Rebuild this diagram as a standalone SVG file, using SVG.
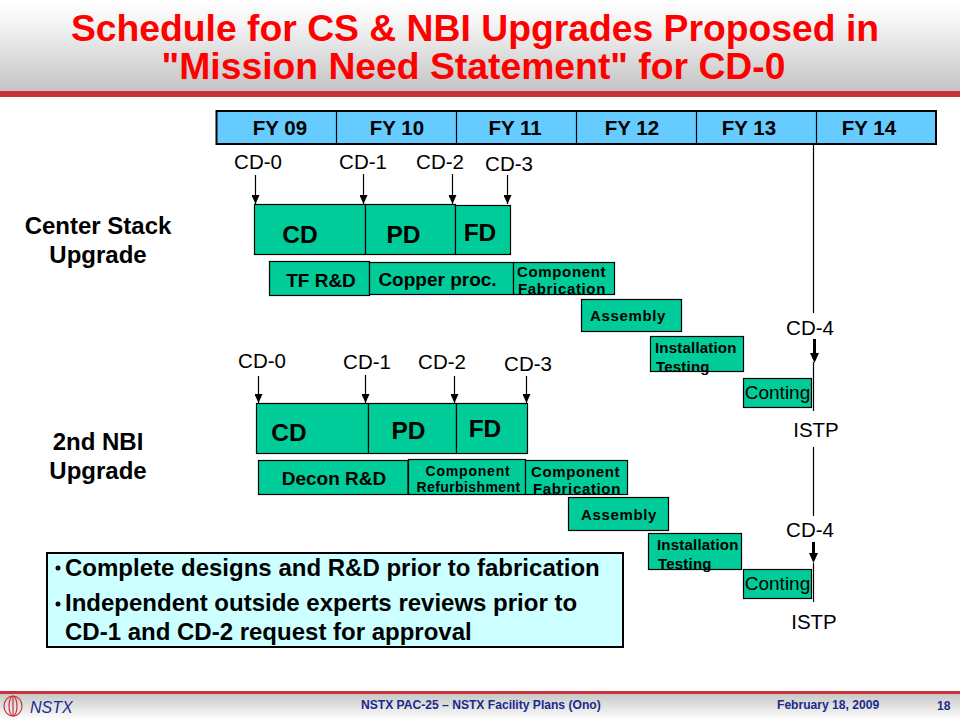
<svg xmlns="http://www.w3.org/2000/svg" width="960" height="720" viewBox="0 0 960 720">
<style>
text{font-family:"Liberation Sans",Arial,sans-serif;fill:#000}
.m{text-anchor:middle}
.box{fill:#00cc99;stroke:#000;stroke-width:1.2}
.big{font-size:24.5px;font-weight:bold}
.sm{font-size:15px;font-weight:bold;letter-spacing:.65px}
.ins{font-size:15px;font-weight:bold;letter-spacing:.2px}
.ref{font-size:14px;font-weight:bold;text-anchor:middle}
.md{font-size:19px;font-weight:bold}
.fy{font-size:20.5px;font-weight:bold;text-anchor:middle}
.cd{font-size:20.5px;text-anchor:middle}
.ct{font-size:19px;text-anchor:middle}
.lbl{font-size:24px;font-weight:bold;text-anchor:middle}
.conn{stroke:#000;stroke-width:1.2;fill:none}
.thick{stroke:#000;stroke-width:3;fill:none}
.foot{font-size:12.1px;font-weight:bold;fill:#1a2a8c}
.title{font-size:37.3px;font-weight:bold;fill:#ff0000;text-anchor:middle}
.note{font-size:24px;font-weight:bold}
</style>
<defs>
<linearGradient id="hdr" x1="0" y1="0" x2="0" y2="1"><stop offset="0" stop-color="#ffffff"/><stop offset="0.25" stop-color="#f4f4f4"/><stop offset="1" stop-color="#c4c4c4"/></linearGradient>
<linearGradient id="ftr" x1="0" y1="0" x2="0" y2="1"><stop offset="0" stop-color="#c8c8c8"/><stop offset="1" stop-color="#ffffff"/></linearGradient>
<marker id="ah" markerUnits="userSpaceOnUse" markerWidth="9" markerHeight="8" refX="9" refY="4" orient="auto" viewBox="0 0 9 8"><path d="M0 0L9 4L0 8Z" fill="#000"/></marker>
</defs>
<g id="header">
<rect x="0" y="0" width="960" height="91" fill="url(#hdr)"/>
<rect x="0" y="91" width="960" height="6" fill="#c8323a"/>
<text class="title" x="475" y="41">Schedule for CS &amp; NBI Upgrades Proposed in</text>
<text class="title" x="473.500" y="79">"Mission Need Statement" for CD-0</text>
</g>
<g id="fy-bar">
<rect x="216.500" y="111" width="719.500" height="33" fill="#66ccff" stroke="#000" stroke-width="2"/>
<path d="M336.500 111V144M456.500 111V144M576.500 111V144M696.500 111V144M816.500 111V144" class="conn"/>
<text class="fy" x="280" y="135">FY 09</text>
<text class="fy" x="397" y="135">FY 10</text>
<text class="fy" x="515" y="135">FY 11</text>
<text class="fy" x="632" y="135">FY 12</text>
<text class="fy" x="749" y="135">FY 13</text>
<text class="fy" x="869" y="135">FY 14</text>
</g>
<g id="connectors">
<path class="conn" d="M813.500 144V313M813.500 362V411M813.500 447V516M813.500 563V602"/>
<line class="conn" x1="255.500" y1="175" x2="255.500" y2="204" marker-end="url(#ah)"/>
<line class="conn" x1="363.500" y1="174" x2="363.500" y2="204" marker-end="url(#ah)"/>
<line class="conn" x1="452.500" y1="174" x2="452.500" y2="204" marker-end="url(#ah)"/>
<line class="conn" x1="507.500" y1="175" x2="507.500" y2="204" marker-end="url(#ah)"/>
<line class="conn" x1="258.500" y1="376" x2="258.500" y2="403" marker-end="url(#ah)"/>
<line class="conn" x1="365.500" y1="375" x2="365.500" y2="403" marker-end="url(#ah)"/>
<line class="conn" x1="454.500" y1="376" x2="454.500" y2="403" marker-end="url(#ah)"/>
<line class="conn" x1="526.500" y1="376" x2="526.500" y2="403" marker-end="url(#ah)"/>
<line class="thick" x1="814.500" y1="339" x2="814.500" y2="355"/><path d="M810 353H819L814.500 363Z"/>
<line class="thick" x1="813.500" y1="542" x2="813.500" y2="555"/><path d="M809 553H818L813.500 563Z"/>
</g>
<g id="cs-upgrade">
<text class="lbl" x="98" y="234">Center Stack</text>
<text class="lbl" x="98" y="263">Upgrade</text>
<text class="cd" x="258" y="169">CD-0</text>
<text class="cd" x="363" y="169">CD-1</text>
<text class="cd" x="440" y="169">CD-2</text>
<text class="cd" x="509" y="171">CD-3</text>
<g id="cs-cd"><rect class="box" x="254.500" y="204.500" width="111" height="50"/><text class="big m" x="300" y="243">CD</text></g>
<g id="cs-pd"><rect class="box" x="365.500" y="204.500" width="90" height="50"/><text class="big m" x="403.500" y="243">PD</text></g>
<g id="cs-fd"><rect class="box" x="455.500" y="205.500" width="55" height="49"/><text class="big m" x="480" y="241">FD</text></g>
<g id="cs-tf"><rect class="box" x="269.500" y="261.500" width="100" height="34"/><text class="md m" x="321" y="287">TF R&amp;D</text></g>
<g id="cs-copper"><rect class="box" x="369.500" y="262.500" width="144" height="32"/><text class="md m" x="437.500" y="286">Copper proc.</text></g>
<g id="cs-comp"><rect class="box" x="513.500" y="262.500" width="101" height="32"/><text class="sm" x="517" y="277">Component</text><text class="sm" x="518" y="294">Fabrication</text></g>
<g id="cs-asm"><rect class="box" x="581.500" y="299.500" width="100" height="32"/><text class="sm" x="590" y="321">Assembly</text></g>
<g id="cs-inst"><rect class="box" x="650.500" y="336.500" width="93" height="35"/><text class="ins" x="655" y="353">Installation</text><text class="ins" x="656" y="372">Testing</text></g>
<g id="cs-cont"><rect class="box" x="743.500" y="378.500" width="68" height="29"/><text class="ct" x="777.500" y="399">Conting</text></g>
<text class="cd" x="810" y="335">CD-4</text>
<text class="cd" x="816" y="437">ISTP</text>
</g>
<g id="nbi-upgrade">
<text class="lbl" x="98" y="450">2nd NBI</text>
<text class="lbl" x="98" y="479">Upgrade</text>
<text class="cd" x="262" y="368">CD-0</text>
<text class="cd" x="367" y="369">CD-1</text>
<text class="cd" x="442" y="369">CD-2</text>
<text class="cd" x="528" y="371">CD-3</text>
<g id="nbi-cd"><rect class="box" x="256.500" y="403.500" width="112" height="50"/><text class="big m" x="289" y="441">CD</text></g>
<g id="nbi-pd"><rect class="box" x="368.500" y="403.500" width="88" height="50"/><text class="big m" x="408.500" y="439">PD</text></g>
<g id="nbi-fd"><rect class="box" x="456.500" y="403.500" width="71" height="50"/><text class="big m" x="485" y="437">FD</text></g>
<g id="nbi-decon"><rect class="box" x="258.500" y="460.500" width="149.500" height="34"/><text class="md m" x="334" y="485">Decon R&amp;D</text></g>
<g id="nbi-refurb"><rect class="box" x="408.500" y="459.500" width="117" height="35"/><text class="ref" style="letter-spacing:.8px" x="468" y="475.500">Component</text><text class="ref" style="letter-spacing:.4px" x="468.500" y="491.500">Refurbishment</text></g>
<g id="nbi-comp"><rect class="box" x="525.500" y="460.500" width="102" height="34"/><text class="sm" x="531" y="477">Component</text><text class="sm" x="533" y="494">Fabrication</text></g>
<g id="nbi-asm"><rect class="box" x="568.500" y="497.500" width="100" height="33"/><text class="sm" x="581" y="520">Assembly</text></g>
<g id="nbi-inst"><rect class="box" x="648.500" y="533.500" width="93" height="36"/><text class="ins" x="657" y="550">Installation</text><text class="ins" x="658" y="569">Testing</text></g>
<g id="nbi-cont"><rect class="box" x="743.500" y="569.500" width="68" height="29"/><text class="ct" x="777.500" y="590">Conting</text></g>
<text class="cd" x="810" y="537">CD-4</text>
<text class="cd" x="814" y="629">ISTP</text>
</g>
<g id="note">
<rect x="47" y="553" width="576" height="94" fill="#ccffff" stroke="#000" stroke-width="2"/>
<circle cx="58" cy="568" r="2.500"/><circle cx="58" cy="604" r="2.500"/>
<text class="note" x="65" y="576">Complete designs and R&amp;D prior to fabrication</text>
<text class="note" x="65" y="611">Independent outside experts reviews prior to</text>
<text class="note" x="65" y="640">CD-1 and CD-2 request for approval</text>
</g>
<g id="footer">
<rect x="0" y="694" width="960" height="26" fill="url(#ftr)"/>
<rect x="0" y="691" width="960" height="3" fill="#c8323a"/>
<g fill="none" stroke="#c8323a" stroke-width="1.200"><ellipse cx="13" cy="706" rx="9" ry="10"/><ellipse cx="13" cy="706" rx="4" ry="10"/><line x1="13" y1="696" x2="13" y2="716"/></g>
<text x="30" y="713" font-style="italic" style="font-size:16px;fill:#1a2a8c">NSTX</text>
<text class="foot" x="361" y="709">NSTX PAC-25 – NSTX Facility Plans (Ono)</text>
<text class="foot" x="777" y="709">February 18, 2009</text>
<text class="foot" x="937" y="710">18</text>
</g>
</svg>
